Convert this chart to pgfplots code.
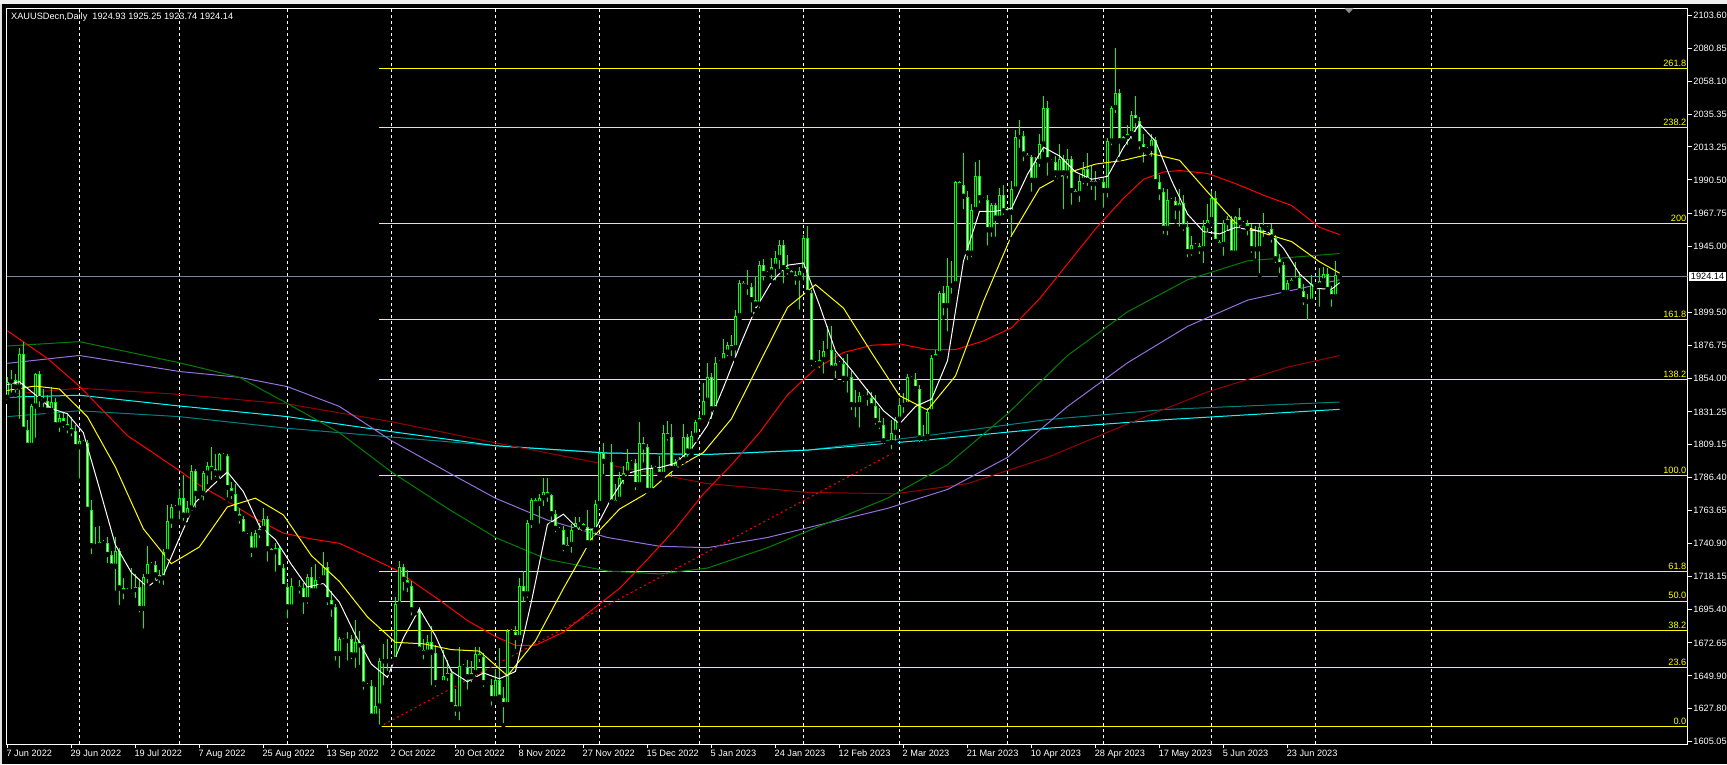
\documentclass[border=0pt]{standalone}
\usepackage{pgfplots}
\pgfplotsset{compat=1.18}
\usepackage{pgfplotstable}
\usepackage{fontspec}
\setmainfont{Liberation Sans}
\definecolor{mtlime}{RGB}{0,255,0}
\definecolor{mtred}{RGB}{255,0,0}
\definecolor{mtgreen}{RGB}{0,128,0}
\definecolor{mtpurple}{RGB}{147,112,219}
\definecolor{mtmaroon}{RGB}{150,0,0}
\definecolor{mtcyan}{RGB}{0,255,255}
\definecolor{mtteal}{RGB}{0,128,128}
\definecolor{mtyellow}{RGB}{255,255,0}
\definecolor{mtslate}{RGB}{119,136,153}
\newcommand\mtfont{\fontsize{9.2}{10}\selectfont}
\pgfplotstableread{
x o h l c
0 1841 1855 1838 1852
1 1852 1860 1843 1853
2 1853 1857 1843 1848
3 1848 1875 1825 1871
4 1871 1879 1818 1819
5 1819 1826 1805 1808
6 1808 1837 1806 1835
7 1835 1858 1812 1857
8 1857 1859 1833 1840
9 1840 1847 1833 1839
10 1839 1843 1829 1832
11 1832 1848 1830 1838
12 1838 1841 1820 1822
13 1822 1830 1816 1827
14 1827 1831 1819 1823
15 1823 1829 1815 1820
16 1820 1828 1813 1818
17 1818 1822 1804 1807
18 1807 1813 1784 1811
19 1811 1812 1808 1810
20 1810 1812 1763 1764
21 1764 1771 1732 1739
22 1739 1752 1736 1740
23 1740 1753 1737 1742
24 1742 1743 1740 1741
25 1741 1745 1726 1733
26 1733 1736 1722 1725
27 1725 1745 1707 1736
28 1736 1738 1697 1710
29 1710 1717 1701 1708
30 1708 1710 1706 1708
31 1708 1724 1705 1709
32 1709 1720 1702 1711
33 1711 1716 1692 1696
34 1696 1720 1681 1718
35 1718 1739 1712 1727
36 1727 1728 1724 1726
37 1726 1729 1714 1719
38 1719 1723 1712 1717
39 1717 1737 1711 1735
40 1735 1767 1732 1756
41 1756 1768 1750 1766
42 1766 1767 1764 1765
43 1765 1778 1756 1772
44 1772 1788 1755 1760
45 1760 1770 1754 1765
46 1765 1795 1762 1791
47 1791 1792 1764 1775
48 1775 1776 1773 1775
49 1775 1791 1769 1789
50 1789 1797 1780 1794
51 1794 1807 1783 1792
52 1792 1802 1785 1789
53 1789 1803 1784 1802
54 1802 1803 1800 1801
55 1801 1802 1771 1779
56 1779 1783 1770 1775
57 1775 1782 1759 1761
58 1761 1765 1753 1758
59 1758 1760 1745 1747
60 1747 1748 1745 1746
61 1746 1749 1730 1736
62 1736 1750 1734 1748
63 1748 1755 1743 1751
64 1751 1765 1749 1758
65 1758 1760 1727 1737
66 1737 1738 1734 1735
67 1735 1741 1720 1738
68 1738 1740 1722 1724
69 1724 1727 1708 1711
70 1711 1714 1688 1697
71 1697 1717 1694 1712
72 1712 1713 1710 1712
73 1712 1716 1705 1710
74 1710 1714 1691 1702
75 1702 1720 1698 1718
76 1718 1725 1705 1708
77 1708 1727 1706 1716
78 1716 1718 1714 1717
79 1717 1735 1715 1725
80 1725 1728 1697 1702
81 1702 1708 1689 1697
82 1697 1699 1659 1665
83 1665 1677 1654 1675
84 1675 1676 1672 1674
85 1674 1680 1659 1675
86 1675 1678 1660 1664
87 1664 1688 1654 1673
88 1673 1681 1656 1671
89 1671 1672 1639 1644
90 1644 1645 1642 1643
91 1643 1647 1621 1622
92 1622 1642 1620 1629
93 1629 1662 1615 1660
94 1660 1672 1642 1660
95 1660 1675 1652 1660
96 1660 1662 1659 1661
97 1661 1704 1659 1699
98 1699 1729 1697 1725
99 1725 1727 1707 1716
100 1716 1723 1706 1712
101 1712 1715 1690 1695
102 1695 1696 1693 1695
103 1695 1697 1665 1668
104 1668 1675 1660 1666
105 1666 1678 1664 1673
106 1673 1684 1642 1666
107 1666 1671 1641 1645
108 1645 1646 1643 1645
109 1645 1668 1643 1650
110 1650 1661 1645 1652
111 1652 1655 1628 1630
112 1630 1641 1621 1627
113 1627 1670 1618 1657
114 1657 1658 1655 1656
115 1656 1661 1639 1649
116 1649 1660 1644 1652
117 1652 1670 1648 1665
118 1665 1670 1658 1663
119 1663 1666 1641 1645
120 1645 1646 1643 1644
121 1644 1648 1628 1634
122 1634 1655 1632 1647
123 1647 1669 1633 1635
124 1635 1642 1616 1630
125 1630 1682 1628 1681
126 1681 1682 1678 1680
127 1680 1684 1667 1676
128 1676 1717 1673 1712
129 1712 1722 1699 1706
130 1706 1757 1702 1755
131 1755 1772 1750 1771
132 1771 1772 1767 1768
133 1768 1775 1753 1772
134 1772 1786 1765 1776
135 1776 1786 1768 1774
136 1774 1775 1754 1761
137 1761 1764 1747 1751
138 1751 1752 1749 1750
139 1750 1753 1734 1738
140 1738 1745 1735 1740
141 1740 1754 1733 1750
142 1750 1759 1748 1755
143 1755 1759 1749 1754
144 1754 1755 1751 1752
145 1752 1764 1739 1741
146 1741 1751 1738 1750
147 1750 1771 1745 1768
148 1768 1805 1766 1803
149 1803 1810 1787 1797
150 1797 1798 1795 1797
151 1797 1809 1766 1769
152 1769 1782 1766 1771
153 1771 1790 1768 1786
154 1786 1794 1780 1789
155 1789 1806 1786 1797
156 1797 1798 1795 1796
157 1796 1799 1776 1781
158 1781 1824 1779 1810
159 1810 1814 1795 1807
160 1807 1809 1774 1777
161 1777 1795 1775 1793
162 1793 1794 1791 1792
163 1792 1801 1786 1788
164 1788 1822 1785 1817
165 1817 1825 1810 1814
166 1814 1823 1785 1792
167 1792 1799 1791 1797
168 1797 1800 1795 1798
169 1798 1823 1797 1814
170 1814 1816 1799 1804
171 1804 1818 1802 1815
172 1815 1826 1812 1824
173 1824 1830 1822 1827
174 1827 1851 1825 1839
175 1839 1865 1836 1855
176 1855 1858 1825 1833
177 1833 1869 1831 1865
178 1865 1867 1863 1866
179 1866 1881 1865 1872
180 1872 1879 1868 1877
181 1877 1884 1868 1875
182 1875 1901 1867 1897
183 1897 1922 1895 1920
184 1920 1921 1917 1918
185 1918 1929 1910 1917
186 1917 1920 1898 1908
187 1908 1924 1901 1905
188 1905 1935 1901 1932
189 1932 1936 1920 1926
190 1926 1928 1925 1927
191 1927 1937 1921 1931
192 1931 1942 1920 1937
193 1937 1949 1928 1946
194 1946 1949 1918 1930
195 1930 1939 1924 1928
196 1928 1929 1924 1925
197 1925 1928 1917 1923
198 1923 1931 1900 1928
199 1928 1953 1920 1951
200 1951 1959 1910 1913
201 1913 1915 1861 1865
202 1865 1866 1862 1864
203 1864 1874 1860 1867
204 1867 1880 1856 1873
205 1873 1890 1870 1874
206 1874 1890 1858 1861
207 1861 1872 1853 1865
208 1865 1866 1863 1864
209 1864 1868 1850 1854
210 1854 1871 1843 1855
211 1855 1859 1831 1836
212 1836 1846 1826 1836
213 1836 1845 1819 1842
214 1842 1843 1840 1841
215 1841 1847 1834 1841
216 1841 1845 1832 1835
217 1835 1843 1821 1825
218 1825 1834 1818 1822
219 1822 1827 1808 1811
220 1811 1812 1809 1810
221 1810 1826 1804 1817
222 1817 1828 1810 1826
223 1826 1841 1823 1836
224 1836 1844 1829 1836
225 1836 1857 1834 1855
226 1855 1856 1853 1854
227 1854 1858 1844 1847
228 1847 1850 1809 1813
229 1813 1822 1810 1814
230 1814 1834 1813 1831
231 1831 1870 1830 1868
232 1868 1874 1867 1871
233 1871 1914 1868 1913
234 1913 1918 1896 1904
235 1904 1937 1885 1918
236 1918 1935 1911 1919
237 1919 1990 1917 1989
238 1989 1990 1985 1987
239 1987 2009 1969 1979
240 1979 1983 1934 1940
241 1940 1974 1936 1970
242 1970 2003 1967 1993
243 1993 2004 1973 1978
244 1978 1979 1975 1977
245 1977 1980 1944 1956
246 1956 1975 1950 1973
247 1973 1975 1950 1964
248 1964 1985 1962 1980
249 1980 1987 1965 1969
250 1969 1971 1966 1968
251 1968 1990 1950 1984
252 1984 2025 1982 2020
253 2020 2032 2011 2021
254 2021 2024 2002 2008
255 2008 2009 2005 2006
256 2006 2008 1981 1990
257 1990 2006 1989 2003
258 2003 2022 1998 2015
259 2015 2048 2008 2040
260 2040 2045 1992 2004
261 2004 2005 2001 2003
262 2003 2007 1991 1995
263 1995 2015 1992 2005
264 2005 2008 1969 1995
265 1995 2012 1990 2005
266 2005 2007 1972 1983
267 1983 1984 1980 1981
268 1981 1994 1974 1990
269 1990 2003 1986 1998
270 1998 2009 1985 1990
271 1990 2000 1982 1988
272 1988 1997 1975 1990
273 1990 1991 1988 1989
274 1989 1992 1970 1983
275 1983 2019 1977 2017
276 2017 2041 2013 2040
277 2040 2081 2035 2050
278 2050 2053 2005 2017
279 2017 2021 2016 2020
280 2020 2028 2013 2022
281 2022 2038 2017 2035
282 2035 2048 2022 2031
283 2031 2034 2010 2015
284 2015 2022 2001 2011
285 2011 2013 2009 2012
286 2012 2022 2005 2018
287 2018 2020 1987 1989
288 1989 1994 1975 1982
289 1982 1985 1952 1957
290 1957 1984 1951 1977
291 1977 1978 1975 1976
292 1976 1979 1962 1971
293 1971 1984 1957 1975
294 1975 1980 1954 1958
295 1958 1962 1936 1941
296 1941 1952 1937 1946
297 1946 1947 1944 1945
298 1945 1947 1938 1943
299 1943 1963 1932 1959
300 1959 1974 1953 1963
301 1963 1983 1960 1978
302 1978 1983 1947 1948
303 1948 1949 1945 1946
304 1946 1963 1937 1961
305 1961 1966 1954 1964
306 1964 1966 1940 1940
307 1940 1966 1937 1965
308 1965 1971 1956 1961
309 1961 1962 1959 1960
310 1960 1963 1951 1957
311 1957 1960 1939 1943
312 1943 1959 1935 1943
313 1943 1960 1925 1958
314 1958 1968 1950 1958
315 1958 1959 1956 1957
316 1957 1960 1946 1951
317 1951 1953 1932 1936
318 1936 1940 1925 1932
319 1932 1934 1910 1913
320 1913 1922 1910 1920
321 1920 1923 1919 1922
322 1922 1934 1920 1923
323 1923 1927 1912 1914
324 1914 1919 1903 1908
325 1908 1912 1893 1907
326 1907 1925 1906 1919
327 1919 1920 1917 1918
328 1918 1930 1902 1921
329 1921 1931 1919 1926
330 1926 1930 1913 1915
331 1915 1918 1902 1910
332 1910 1935 1908 1925
333 1924.93 1925.25 1923.74 1924.14
}\candles
\begin{document}
\begin{tikzpicture}[x=1pt,y=1pt]
\path[use as bounding box] (0,0) rectangle (1727,764);
\fill[black] (0,0) rectangle (1727,764);
\fill[black!6] (0,759.5) rectangle (1727,764);
\fill[black!12] (0,0) rectangle (1.6,759.5);
\begin{axis}[
  at={(6.7pt,19.7pt)}, anchor=south west,
  width=1680.6pt, height=736pt, scale only axis,
  xmin=-0.15, xmax=420, ymin=1602.99, ymax=2108.41,
  axis line style={white, line width=1pt},
  tick align=outside, major tick length=4pt,
  tick style={white, line width=1pt},
  xtick pos=bottom, ytick pos=right, yticklabel pos=right,
  xtick={0,16,...,320},
  xticklabels={7 Jun 2022, 29 Jun 2022, 19 Jul 2022, 7 Aug 2022, 25 Aug 2022, 13 Sep 2022, 2 Oct 2022, 20 Oct 2022, 8 Nov 2022, 27 Nov 2022, 15 Dec 2022, 5 Jan 2023, 24 Jan 2023, 12 Feb 2023, 2 Mar 2023, 21 Mar 2023, 10 Apr 2023, 28 Apr 2023, 17 May 2023, 5 Jun 2023, 23 Jun 2023},
  xticklabel style={anchor=north west, inner sep=0pt, xshift=-1pt, yshift=-1.5pt, font=\mtfont, text=white},
  ytick={1605.05,1627.80,1649.90,1672.65,1695.40,1718.15,1740.90,1763.65,1786.40,1809.15,1831.25,1854.00,1876.75,1899.50,1945.00,1967.75,1990.50,2013.25,2035.35,2058.10,2080.85,2103.60},
  yticklabels={1605.05,1627.80,1649.90,1672.65,1695.40,1718.15,1740.90,1763.65,1786.40,1809.15,1831.25,1854.00,1876.75,1899.50,1945.00,1967.75,1990.50,2013.25,2035.35,2058.10,2080.85,2103.60},
  yticklabel style={anchor=west, inner sep=0pt, xshift=1.5pt, font=\mtfont, text=white},
  extra x ticks={18,43,70,96,122,148,173,199,223,250,274,301,327,356},
  extra x tick labels={},
  extra x tick style={grid=major, major tick length=0pt, tick style={draw=none}},
  major grid style={white, line width=1pt, dash pattern=on 3pt off 3pt},
]
% Fibonacci levels
\addplot[mtyellow, line width=1pt] coordinates {(93,1615.0) (420,1615.0)};
\addplot[mtyellow, line width=1pt] coordinates {(93,1655.8) (420,1655.8)};
\addplot[mtyellow, line width=1pt] coordinates {(93,1681.1) (420,1681.1)};
\addplot[mtyellow, line width=1pt] coordinates {(93,1701.3) (420,1701.3)};
\addplot[mtyellow, line width=1pt] coordinates {(93,1721.7) (420,1721.7)};
\addplot[mtyellow, line width=1pt] coordinates {(93,1787.6) (420,1787.6)};
\addplot[mtyellow, line width=1pt] coordinates {(93,1853.6) (420,1853.6)};
\addplot[mtyellow, line width=1pt] coordinates {(93,1894.4) (420,1894.4)};
\addplot[mtyellow, line width=1pt] coordinates {(93,1960.5) (420,1960.5)};
\addplot[mtyellow, line width=1pt] coordinates {(93,2026.4) (420,2026.4)};
\addplot[mtyellow, line width=1pt] coordinates {(93,2067.2) (420,2067.2)};
% current price line
\addplot[mtslate, line width=1pt] coordinates {(-0.15,1924.14) (420,1924.14)};
% slow moving averages
\addplot[mtteal, line width=1pt] coordinates {(0,1828) (18,1832) (43,1828) (70,1820) (96,1814) (122,1808) (150,1803) (175,1802) (200,1805) (230,1815) (260,1826) (290,1833) (333,1838)};
\addplot[mtcyan, line width=1pt] coordinates {(0,1841.3) (18,1842.7) (43,1835.3) (70,1828) (96,1817.7) (122,1808) (150,1803) (175,1802) (200,1805) (230,1812) (260,1820) (290,1826) (333,1833)};
\addplot[mtmaroon, line width=1pt] coordinates {(0,1843.3) (18,1847.5) (43,1843.3) (70,1836.7) (96,1824.5) (122,1810) (150,1795) (175,1782) (200,1776) (222,1775) (240,1782) (260,1800) (280,1823) (300,1845) (320,1862) (333,1870)};
\addplot[mtpurple, line width=1pt] coordinates {(0,1864.6) (18,1870) (43,1859) (58,1855) (70,1848.6) (83,1835) (96,1811.5) (110,1790) (122,1772) (135,1757) (150,1745) (163,1739) (175,1738) (190,1745) (205,1755) (220,1765) (235,1778) (250,1800) (265,1835) (280,1865) (295,1890) (310,1908) (333,1922)};
\addplot[mtgreen, line width=1pt] coordinates {(0,1876.5) (18,1879.5) (43,1865) (58,1855) (70,1837) (83,1817) (96,1790) (110,1765) (122,1745) (135,1730) (150,1722) (163,1720) (175,1724) (190,1738) (205,1755) (220,1772) (235,1795) (250,1830) (265,1870) (280,1900) (295,1922) (310,1935) (333,1940)};
\addplot[mtred, line width=1pt] coordinates {(0,1887) (10,1868) (18,1849) (30,1815) (43,1791) (48,1781) (55,1770) (62,1758) (69,1748) (76,1744) (83,1741) (87,1736) (97,1723) (108,1702) (115,1688) (122,1677) (127,1671) (132,1671) (139,1680) (146,1695) (153,1710) (160,1730) (167,1751) (174,1775) (181,1795) (188,1817) (195,1843) (202,1861) (209,1872) (216,1877) (223,1878) (230,1874) (237,1874) (244,1880) (251,1889) (258,1909) (265,1933) (272,1957) (279,1978) (284,1991) (289,1996) (293,1997) (300,1995) (307,1988) (314,1980) (321,1973) (328,1958) (333,1953)};
% trend line
\addplot[mtred, line width=1pt, dash pattern=on 2pt off 3pt] coordinates {(93,1615) (222,1804)};
% candles: wicks
\addplot[only marks, mark=none, error bars/.cd, y dir=plus, y explicit, error mark=none, error bar style={mtlime, line width=1pt}]
  table[x=x, y=l, y error plus expr=\thisrow{h}-\thisrow{l}] {\candles};
% candles: bodies
\addplot[only marks, mark=none, error bars/.cd, y dir=plus, y explicit, error mark=none, error bar style={mtlime, line width=3pt}]
  table[x=x, y expr={min(\thisrow{o},\thisrow{c})}, y error plus expr={max(abs(\thisrow{c}-\thisrow{o}),0.69)}] {\candles};
% bull interiors
\addplot[only marks, mark=none, error bars/.cd, y dir=plus, y explicit, error mark=none, error bar style={black, line width=1pt}]
  table[x=x, y expr={ifthenelse(\thisrow{c}-\thisrow{o}>2.06, \thisrow{o}+0.687, 1000)}, y error plus expr={ifthenelse(\thisrow{c}-\thisrow{o}>2.06, \thisrow{c}-\thisrow{o}-1.374, 0)}] {\candles};
% bear interiors
\addplot[only marks, mark=none, error bars/.cd, y dir=plus, y explicit, error mark=none, error bar style={white, line width=1pt}]
  table[x=x, y expr={ifthenelse(\thisrow{o}-\thisrow{c}>2.06, \thisrow{c}+0.687, 1000)}, y error plus expr={ifthenelse(\thisrow{o}-\thisrow{c}>2.06, \thisrow{o}-\thisrow{c}-1.374, 0)}] {\candles};
% fast moving averages
\addplot[mtyellow, line width=1pt] coordinates {(0,1846) (7,1849) (13,1847) (20,1828) (27,1793.5) (34,1751) (41,1727) (48,1738.5) (55,1766) (62,1772) (69,1760.5) (76,1732.6) (83,1714.8) (90,1690.5) (97,1673) (104,1672) (111,1668) (118,1667) (125,1650) (132,1674) (139,1710) (146,1744) (153,1764.5) (160,1775.7) (167,1792.4) (174,1803.4) (181,1826.5) (188,1864.8) (195,1903) (202,1918.6) (209,1902.5) (216,1872) (223,1842.4) (230,1832.5) (237,1856) (244,1907.4) (251,1952.4) (258,1984.8) (265,1995.4) (272,2001.4) (279,2004) (286,2008.6) (293,2004) (300,1982.2) (307,1961) (314,1954) (321,1948.2) (328,1934.3) (333,1926.5)};
\addplot[white, line width=1pt] coordinates {(0,1850) (3,1852) (7,1843) (11,1833.5) (15,1830) (19,1817) (23,1779) (27,1740) (31,1721) (35,1711) (39,1719) (43,1744.5) (47,1769) (51,1780) (55,1790) (59,1776.5) (63,1753) (67,1743.6) (71,1726.5) (75,1711) (79,1713.5) (83,1700.6) (87,1678) (91,1658) (95,1649) (99,1676) (103,1696) (107,1677.5) (111,1653) (115,1646) (119,1652) (123,1648) (127,1653) (131,1701) (135,1754) (139,1761) (143,1750) (147,1751) (151,1772) (155,1789) (159,1792) (163,1793) (167,1796) (171,1806) (175,1822) (179,1848) (183,1876) (187,1902) (191,1920.5) (195,1932) (199,1933.5) (203,1904.5) (207,1873) (211,1860) (215,1846) (219,1832) (223,1823) (227,1835) (231,1840) (235,1866.5) (239,1935) (243,1969) (247,1969) (251,1971) (255,1994.5) (259,2013) (263,2007) (267,1996) (271,1991) (275,1993) (279,2013) (283,2029) (287,2017) (291,1990) (295,1967) (299,1955) (303,1953.5) (307,1958) (311,1956) (315,1955) (319,1943.5) (323,1926) (327,1916) (331,1915.5) (333,1920)};
% fib labels
\node[anchor=south east, inner sep=0pt, yshift=2pt, text=mtyellow, font=\mtfont] at (axis cs:419.7,1615.0) {0.0};
\node[anchor=south east, inner sep=0pt, yshift=2pt, text=mtyellow, font=\mtfont] at (axis cs:419.7,1655.8) {23.6};
\node[anchor=south east, inner sep=0pt, yshift=2pt, text=mtyellow, font=\mtfont] at (axis cs:419.7,1681.1) {38.2};
\node[anchor=south east, inner sep=0pt, yshift=2pt, text=mtyellow, font=\mtfont] at (axis cs:419.7,1701.3) {50.0};
\node[anchor=south east, inner sep=0pt, yshift=2pt, text=mtyellow, font=\mtfont] at (axis cs:419.7,1721.7) {61.8};
\node[anchor=south east, inner sep=0pt, yshift=2pt, text=mtyellow, font=\mtfont] at (axis cs:419.7,1787.6) {100.0};
\node[anchor=south east, inner sep=0pt, yshift=2pt, text=mtyellow, font=\mtfont] at (axis cs:419.7,1853.6) {138.2};
\node[anchor=south east, inner sep=0pt, yshift=2pt, text=mtyellow, font=\mtfont] at (axis cs:419.7,1894.4) {161.8};
\node[anchor=south east, inner sep=0pt, yshift=2pt, text=mtyellow, font=\mtfont] at (axis cs:419.7,1960.5) {200};
\node[anchor=south east, inner sep=0pt, yshift=2pt, text=mtyellow, font=\mtfont] at (axis cs:419.7,2026.4) {238.2};
\node[anchor=south east, inner sep=0pt, yshift=2pt, text=mtyellow, font=\mtfont] at (axis cs:419.7,2067.2) {261.8};
\coordinate (cp) at (axis cs:420,1924.14);
\end{axis}
\node[anchor=west, fill=white, text=black, inner xsep=1.5pt, inner ysep=1.2pt, font=\mtfont, xshift=1.5pt] at (cp) {1924.14};
\node[anchor=west, inner sep=0pt, text=white, font=\mtfont] at (11,747.3) {XAUUSDecn,Daily\ \ 1924.93 1925.25 1923.74 1924.14};
\fill[black!45] (1344.5,755.7) -- (1353.5,755.7) -- (1349,750.7) -- cycle;
\end{tikzpicture}
\end{document}
